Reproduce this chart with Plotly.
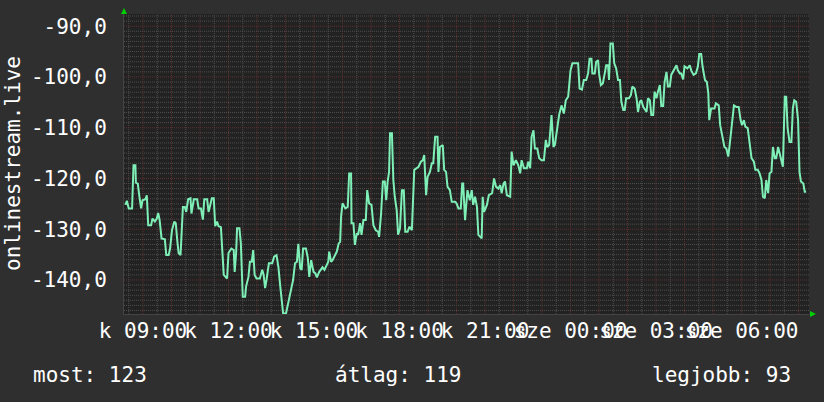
import pandas as pd
import plotly.graph_objects as go

# ---------------- data ----------------
start_time = "2024-01-02 08:20"          # kedd (Tuesday)
end_time = "2024-01-03 08:22"            # szerda (Wednesday)

minutes = [
    3, 6, 10, 17, 20, 24, 25, 29, 32, 36,
    39, 45, 48, 51, 57, 60, 65, 69, 72, 75,
    79, 86, 89, 94, 97, 101, 106, 109, 112, 115,
    119, 121, 124, 128, 131, 135, 140, 142, 147, 154,
    157, 162, 166, 169, 175, 178, 182, 185, 189, 192,
    196, 199, 204, 206, 210, 217, 220, 226, 231, 233,
    236, 238, 243, 246, 250, 255, 257, 262, 265, 269,
    272, 275, 279, 286, 291, 294, 297, 300, 305, 312,
    316, 321, 325, 329, 333, 335, 341, 345, 349, 353,
    356, 360, 364, 367, 371, 374, 377, 383, 387, 390,
    394, 399, 403, 406, 411, 418, 422, 425, 430, 432,
    436, 439, 444, 448, 452, 455, 457, 460, 466, 471,
    474, 478, 479, 483, 486, 490, 493, 497, 500, 504,
    509, 512, 516, 521, 525, 530, 535, 537, 541, 545,
    549, 552, 555, 558, 560, 564, 567, 570, 574, 577,
    581, 585, 589, 592, 597, 601, 606, 609, 611, 620,
    625, 629, 632, 636, 639, 644, 648, 651, 655, 660,
    662, 665, 671, 674, 678, 681, 686, 690, 697, 700,
    704, 709, 712, 714, 718, 723, 728, 732, 735, 739,
    743, 746, 753, 755, 758, 764, 768, 775, 779, 783,
    788, 792, 795, 799, 802, 806, 813, 816, 820, 825,
    830, 834, 837, 842, 848, 851, 855, 858, 862, 865,
    870, 874, 879, 884, 888, 891, 895, 900, 904, 907,
    912, 916, 921, 926, 930, 935, 940, 944, 953, 956,
    959, 964, 968, 973, 977, 980, 984, 986, 991, 994,
    998, 1000, 1004, 1008, 1012, 1015, 1019, 1021, 1024, 1029,
    1032, 1036, 1040, 1044, 1047, 1051, 1054, 1057, 1063, 1067,
    1070, 1075, 1079, 1082, 1086, 1089, 1093, 1100, 1103, 1107,
    1110, 1114, 1117, 1121, 1124, 1128, 1131, 1135, 1138, 1142,
    1145, 1149, 1152, 1157, 1163, 1166, 1170, 1173, 1177, 1180,
    1186, 1191, 1194, 1199, 1204, 1208, 1211, 1215, 1218, 1223,
    1227, 1230, 1232, 1236, 1243, 1246, 1252, 1255, 1259, 1264,
    1268, 1272, 1275, 1280, 1284, 1289, 1294, 1298, 1301, 1305,
    1308, 1313, 1317, 1321, 1326, 1329, 1334, 1338, 1342, 1345,
    1349, 1352, 1356, 1359, 1363, 1366, 1370, 1373, 1377, 1380,
    1384, 1387, 1391, 1394, 1397, 1401, 1405, 1408, 1411, 1415,
    1419, 1422, 1425, 1430, 1433, 1436,
]

values = [
    -125.2, -124.4, -125.9, -125.9, -117.4, -117.4, -120.8, -121.0, -123.3, -125.9,
    -124.3, -124.1, -123.3, -129.2, -129.2, -127.9, -128.5, -127.9, -126.8, -128.2,
    -131.8, -132.0, -135.1, -135.1, -133.8, -130.2, -128.5, -128.8, -132.1, -134.7,
    -135.1, -130.5, -125.6, -125.6, -126.6, -124.1, -123.9, -126.9, -124.1, -124.1,
    -125.9, -125.9, -128.1, -124.1, -124.1, -126.6, -125.2, -123.9, -123.9, -129.4,
    -128.5, -129.4, -129.6, -133.4, -139.0, -139.7, -134.7, -133.8, -134.1, -138.4,
    -134.7, -129.8, -129.8, -132.8, -143.3, -143.3, -141.3, -139.4, -136.4, -136.4,
    -134.1, -139.0, -139.7, -139.7, -138.0, -139.0, -141.6, -140.0, -136.7, -136.7,
    -135.4, -135.1, -137.4, -141.3, -144.6, -146.6, -146.6, -144.6, -143.0, -141.3,
    -140.0, -136.7, -136.4, -132.9, -137.7, -138.0, -133.8, -133.8, -135.7, -139.4,
    -136.1, -138.4, -138.7, -139.5, -138.4, -137.5, -138.0, -137.4, -136.4, -134.4,
    -136.4, -136.1, -135.1, -134.4, -132.8, -132.5, -127.5, -124.9, -125.9, -125.6,
    -119.0, -119.0, -128.8, -128.8, -133.1, -130.8, -131.1, -128.8, -131.1, -128.2,
    -128.2, -122.3, -124.9, -125.2, -129.2, -130.2, -130.5, -131.5, -127.2, -120.6,
    -120.6, -124.3, -120.6, -118.7, -111.1, -111.1, -120.3, -123.6, -126.2, -131.1,
    -129.8, -122.3, -122.3, -130.5, -130.5, -129.5, -130.2, -122.3, -118.3, -117.7,
    -116.7, -116.4, -115.4, -123.3, -119.7, -118.7, -117.0, -117.0, -111.8, -111.8,
    -118.7, -113.8, -113.4, -118.3, -118.7, -121.6, -122.3, -124.6, -124.6, -124.9,
    -125.9, -125.9, -121.0, -121.0, -128.2, -122.3, -124.3, -122.3, -125.2, -123.6,
    -125.6, -131.1, -131.8, -123.6, -126.6, -125.2, -123.3, -122.9, -120.0, -121.6,
    -122.0, -121.3, -122.9, -121.0, -120.6, -123.3, -123.6, -114.7, -117.4, -116.4,
    -117.4, -119.0, -116.4, -118.0, -118.0, -116.7, -118.0, -111.8, -110.5, -114.1,
    -114.1, -116.0, -116.4, -116.4, -112.4, -113.8, -113.4, -107.5, -113.8, -113.4,
    -110.5, -107.5, -105.6, -107.2, -104.6, -103.9, -98.7, -97.3, -97.3, -97.3,
    -102.3, -102.5, -100.6, -100.6, -99.3, -96.4, -96.4, -99.3, -99.3, -97.0,
    -96.7, -99.3, -101.6, -101.3, -99.3, -97.7, -97.7, -100.6, -93.4, -93.4,
    -97.3, -98.3, -100.6, -100.6, -104.9, -106.5, -106.5, -104.2, -104.2, -103.6,
    -101.9, -102.3, -104.2, -106.9, -104.9, -104.6, -105.9, -106.9, -104.2, -104.6,
    -107.5, -107.5, -102.9, -104.2, -102.9, -101.6, -105.7, -105.7, -101.0, -99.0,
    -101.9, -101.9, -99.6, -98.7, -97.7, -98.7, -99.3, -99.3, -100.5, -97.9,
    -98.3, -97.7, -98.7, -99.6, -99.3, -98.0, -95.5, -95.5, -98.0, -100.6,
    -101.0, -103.2, -108.5, -106.2, -106.2, -105.2, -105.6, -109.5, -111.8, -113.8,
    -114.1, -115.7, -113.4, -109.5, -105.6, -105.9, -105.9, -108.5, -109.5, -108.5,
    -109.8, -110.1, -113.1, -116.0, -116.7, -118.3, -118.3, -119.0, -120.3, -123.6,
    -123.9, -120.3, -122.9, -119.0, -118.7, -113.8, -116.0, -116.0, -113.8, -115.1,
    -117.0, -117.7, -103.9, -103.9, -110.1, -112.8, -112.8, -106.2, -104.6, -104.9,
    -108.5, -118.7, -120.6, -121.0, -122.6, -122.6,
]
assert len(minutes) == len(values)

y_range = [-146.7, -87.6]
y_tick_vals = [-90, -100, -110, -120, -130, -140]
y_tick_text = ["-90,0", "-100,0", "-110,0", "-120,0", "-130,0", "-140,0"]

x_tick_times = ["2024-01-02 09:00", "2024-01-02 12:00", "2024-01-02 15:00",
                "2024-01-02 18:00", "2024-01-02 21:00", "2024-01-03 00:00",
                "2024-01-03 03:00", "2024-01-03 06:00"]
x_tick_text = ["k 09:00", "k 12:00", "k 15:00", "k 18:00", "k 21:00",
               "sze 00:00", "sze 03:00", "sze 06:00"]

series_name = "onlinestream.live"
summary_labels = ["most: 123", "átlag: 119", "legjobb: 93"]

# ---------------- styles ----------------
FONT = "DejaVu Sans Mono"
PAPER = "#2f2f2f"
PLOT_BG = "#222222"
LINE = "#7eefb6"
MINOR = "#4e4e4e"
MAJOR = "#5e2f2f"
ARROW = "#00d000"
TEXT = "#ffffff"

x = pd.Timestamp(start_time) + pd.to_timedelta(minutes, unit="min")

fig = go.Figure()
fig.add_trace(go.Scatter(x=x, y=values, mode="lines",
                         line=dict(color=LINE, width=2, shape="linear"),
                         name=series_name, showlegend=False, hoverinfo="skip"))

shapes = []
t = pd.Timestamp("2024-01-02 08:30")
t_end = pd.Timestamp(end_time)
while t <= t_end:
    col = MAJOR if t.minute == 0 else MINOR
    shapes.append(dict(type="line", xref="x", yref="paper", x0=t, x1=t, y0=0, y1=1,
                       line=dict(color=col, width=1, dash="1px,1px"), layer="below"))
    t += pd.Timedelta(minutes=30)
for v in range(-146, -87):
    col = MAJOR if v % 10 == 0 else MINOR
    shapes.append(dict(type="line", xref="paper", yref="y", x0=0, x1=1, y0=v, y1=v,
                       line=dict(color=col, width=1, dash="1px,1px"), layer="below"))

# axis arrows
shapes.append(dict(type="path", xref="paper", yref="paper", xsizemode="pixel", ysizemode="pixel",
                   xanchor=0, yanchor=1, path="M -3,0 L 3,0 L 0,6 Z",
                   fillcolor=ARROW, line=dict(width=0), layer="above"))
shapes.append(dict(type="path", xref="paper", yref="paper", xsizemode="pixel", ysizemode="pixel",
                   xanchor=1, yanchor=0, path="M 1,-3 L 1,3 L 7,0 Z",
                   fillcolor=ARROW, line=dict(width=0), layer="above"))

annotations = [
    dict(text=series_name, xref="paper", yref="paper", x=0, y=0.5, xshift=-111,
         textangle=-90, showarrow=False, xanchor="center", yanchor="middle",
         font=dict(family=FONT, size=21, color=TEXT)),
    dict(text=summary_labels[0], xref="paper", yref="paper", x=0, y=0, xshift=-93, yshift=-61,
         showarrow=False, xanchor="left", yanchor="middle", font=dict(family=FONT, size=21, color=TEXT)),
    dict(text=summary_labels[1], xref="paper", yref="paper", x=0, y=0, xshift=209, yshift=-61,
         showarrow=False, xanchor="left", yanchor="middle", font=dict(family=FONT, size=21, color=TEXT)),
    dict(text=summary_labels[2], xref="paper", yref="paper", x=1, y=0, xshift=-16, yshift=-61,
         showarrow=False, xanchor="right", yanchor="middle", font=dict(family=FONT, size=21, color=TEXT)),
]

fig.update_layout(
    width=824, height=402,
    margin=dict(l=124, r=15, t=14, b=88, pad=0),
    paper_bgcolor=PAPER, plot_bgcolor=PLOT_BG,
    font=dict(family=FONT, size=21, color=TEXT),
    showlegend=False,
    shapes=shapes, annotations=annotations,
    xaxis=dict(type="date", range=[start_time, end_time], tickmode="array",
               tickvals=x_tick_times, ticktext=x_tick_text, tickangle=0,
               showgrid=False, zeroline=False, showline=True, linecolor="#444444",
               ticks="", ticklabelstandoff=-2, tickfont=dict(family=FONT, size=21, color=TEXT)),
    yaxis=dict(range=y_range, tickmode="array", tickvals=y_tick_vals, ticktext=y_tick_text,
               showgrid=False, zeroline=False, showline=True, linecolor="#444444",
               ticks="", ticklabelstandoff=12, tickfont=dict(family=FONT, size=21, color=TEXT)),
)

fig.write_html("out.html", config={"displayModeBar": False},
               post_script="document.body.style.margin='0';")
